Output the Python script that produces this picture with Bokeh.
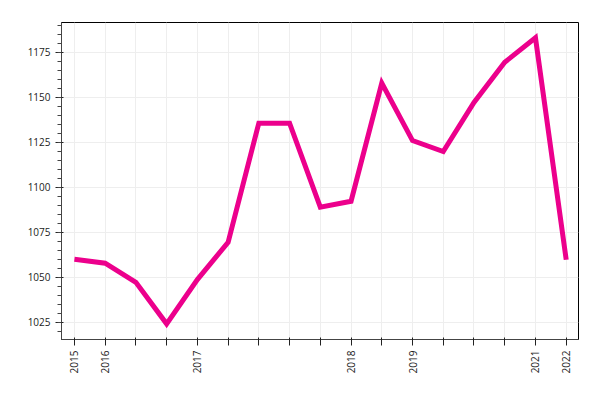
import math
from bokeh.plotting import figure
from bokeh.models import Range1d, FixedTicker, SingleIntervalTicker
from bokeh.embed import file_html
from bokeh.resources import INLINE

# Data
x_index = list(range(17))
values = [1060, 1057.8, 1047.2, 1024.1, 1048.7, 1069.4, 1135.6, 1135.6, 1088.9,
          1092.2, 1157.8, 1125.9, 1119.8, 1147.1, 1169.4, 1183.0, 1059.7]
tick_labels = ["2015", "2016", "", "", "2017", "", "", "", "", "2018", "", "2019",
               "", "", "", "2021", "2022"]

p = figure(width=592, height=392, output_backend="svg", toolbar_location=None,
           x_range=Range1d(-0.42, 16.4), y_range=Range1d(1015.4, 1191.5),
           min_border_left=61, min_border_right=14, min_border_top=22, min_border_bottom=53)

p.line(x_index, values, line_color="#EC008C", line_width=5, line_join="miter")

p.xaxis.ticker = FixedTicker(ticks=x_index, minor_ticks=[])
p.xaxis.major_label_overrides = {i: lab for i, lab in zip(x_index, tick_labels)}
p.xaxis.major_label_orientation = math.pi / 2
p.yaxis.ticker = SingleIntervalTicker(interval=25, num_minor_ticks=5)

for ax in (p.xaxis[0], p.yaxis[0]):
    ax.major_label_text_font = "Open Sans"
    ax.major_label_text_font_size = "10px"
    ax.major_label_text_color = "#222222"
    ax.axis_line_color = "#444444"
    ax.major_tick_line_color = "#222222"
    ax.minor_tick_line_color = "#444444"

p.xgrid.grid_line_color = "#eeeeee"
p.ygrid.grid_line_color = "#eeeeee"
p.outline_line_color = "black"
p.outline_line_alpha = 1.0
p.background_fill_color = "white"
p.border_fill_color = "white"

open("out.html", "w").write(file_html(p, INLINE))
